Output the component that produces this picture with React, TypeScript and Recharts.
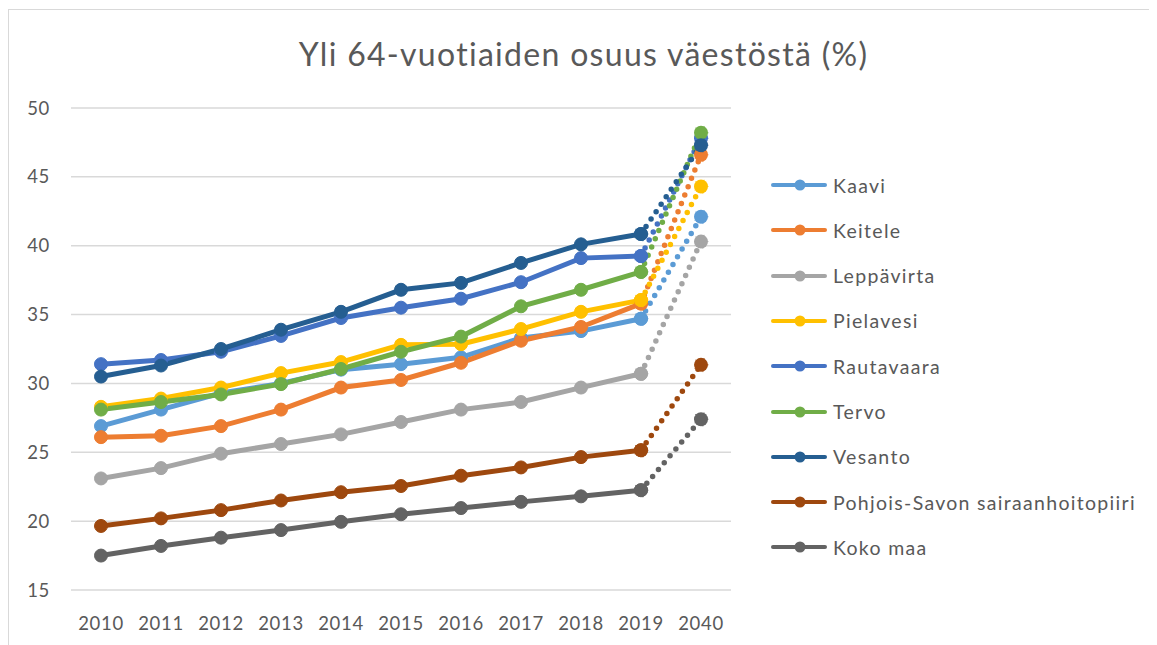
import React from 'react';
import { LineChart, Line, XAxis, YAxis, CartesianGrid } from 'recharts';

// years on the category axis; the last one is a projection
const years = ['2010', '2011', '2012', '2013', '2014', '2015', '2016', '2017', '2018', '2019', '2040'];

const kaavi = [26.9, 28.1, 29.3, 30.0, 31.0, 31.4, 31.9, 33.3, 33.8, 34.7, 42.1];
const keitele = [26.1, 26.2, 26.9, 28.1, 29.7, 30.25, 31.5, 33.1, 34.1, 35.8, 46.6];
const leppavirta = [23.1, 23.85, 24.9, 25.6, 26.3, 27.2, 28.1, 28.65, 29.7, 30.7, 40.3];
const pielavesi = [28.3, 28.9, 29.7, 30.75, 31.55, 32.8, 32.85, 33.95, 35.2, 36.05, 44.3];
const rautavaara = [31.4, 31.7, 32.3, 33.45, 34.75, 35.5, 36.15, 37.35, 39.1, 39.25, 47.8];
const tervo = [28.1, 28.65, 29.2, 29.95, 31.05, 32.3, 33.4, 35.6, 36.8, 38.1, 48.2];
const vesanto = [30.5, 31.3, 32.5, 33.9, 35.2, 36.8, 37.3, 38.75, 40.1, 40.85, 47.3];
const pohjoisSavo = [19.65, 20.2, 20.8, 21.5, 22.1, 22.55, 23.3, 23.9, 24.65, 25.15, 31.35];
const kokoMaa = [17.5, 18.2, 18.8, 19.35, 19.95, 20.5, 20.95, 21.4, 21.8, 22.25, 27.4];

const yTicks = [15, 20, 25, 30, 35, 40, 45, 50];

const series = [
  { name: 'Kaavi', values: kaavi, color: '#5B9BD5' },
  { name: 'Keitele', values: keitele, color: '#ED7D31' },
  { name: 'Leppävirta', values: leppavirta, color: '#A5A5A5' },
  { name: 'Pielavesi', values: pielavesi, color: '#FFC000' },
  { name: 'Rautavaara', values: rautavaara, color: '#4472C4' },
  { name: 'Tervo', values: tervo, color: '#70AD47' },
  { name: 'Vesanto', values: vesanto, color: '#255E91' },
  { name: 'Pohjois-Savon sairaanhoitopiiri', values: pohjoisSavo, color: '#9E480E' },
  { name: 'Koko maa', values: kokoMaa, color: '#636363' },
];

const lastIdx = years.length - 1;

// solid part for the measured years, separate key for the dotted projection
const data = years.map((year, i) => {
  const row: Record<string, string | number | null> = { year };
  series.forEach((s, k) => {
    row[`s${k}`] = i < lastIdx ? s.values[i] : null;
    row[`p${k}`] = i >= lastIdx - 1 ? s.values[i] : null;
  });
  return row;
});

const font = 'Lato, "Open Sans", sans-serif';
const textColor = '#595959';

const App: React.FC = () => {
  return (
    <div
      style={{
        position: 'relative',
        width: 1147,
        height: 700,
        marginTop: 1,
        border: '1px solid #d9d9d9',
        background: '#fff',
        fontFamily: font,
      }}
    >
      <div
        style={{
          position: 'absolute',
          left: 0,
          width: 1149,
          top: 24,
          textAlign: 'center',
          fontSize: 32,
          letterSpacing: 1.3,
          color: textColor,
          lineHeight: '40px',
        }}
      >
        Yli 64-vuotiaiden osuus väestöstä (%)
      </div>

      <div style={{ position: 'absolute', left: 0, top: 0 }}>
        <LineChart
          width={760}
          height={640}
          data={data}
          margin={{ top: 98, right: 38, bottom: 30, left: 10 }}
        >
          <CartesianGrid vertical={false} stroke="#d9d9d9" strokeWidth={1.5} />
          <XAxis
            dataKey="year"
            axisLine={false}
            tickLine={false}
            padding={{ left: 30, right: 30 }}
            tickMargin={21}
            interval={0}
            tick={{ fontSize: 18.5, fill: textColor, fontFamily: font, letterSpacing: 0.7 }}
          />
          <YAxis
            width={52}
            domain={[15, 50]}
            ticks={yTicks}
            axisLine={false}
            tickLine={false}
            tickMargin={15}
            tick={{ fontSize: 18.5, fill: textColor, fontFamily: font, letterSpacing: 0.7 }}
          />
          {series.map((s, k) => [
            <Line
              key={`s${k}`}
              dataKey={`s${k}`}
              stroke={s.color}
              strokeWidth={5}
              dot={{ r: 6.5, fill: s.color, stroke: s.color, strokeWidth: 1 }}
              activeDot={false}
              isAnimationActive={false}
            />,
            <Line
              key={`p${k}`}
              dataKey={`p${k}`}
              stroke={s.color}
              strokeWidth={5.5}
              strokeDasharray="0 9"
              strokeLinecap="round"
              dot={{ r: 7, fill: s.color, stroke: s.color, strokeWidth: 1 }}
              activeDot={false}
              isAnimationActive={false}
            />,
          ])}
        </LineChart>
      </div>

      <div style={{ position: 'absolute', left: 762, top: 0 }}>
        {series.map((s, k) => (
          <div
            key={s.name}
            style={{
              position: 'absolute',
              left: 0,
              top: 175 + k * 45.3 - 12,
              height: 24,
              display: 'flex',
              alignItems: 'center',
              whiteSpace: 'nowrap',
            }}
          >
            <svg width={56} height={24} style={{ display: 'block' }}>
              <line x1={2} y1={12} x2={54} y2={12} stroke={s.color} strokeWidth={4} strokeLinecap="round" />
              <circle cx={29} cy={12} r={5.5} fill={s.color} />
            </svg>
            <span style={{ marginLeft: 6, fontSize: 19.5, letterSpacing: 1.3, color: textColor }}>{s.name}</span>
          </div>
        ))}
      </div>
    </div>
  );
};

export default App;
